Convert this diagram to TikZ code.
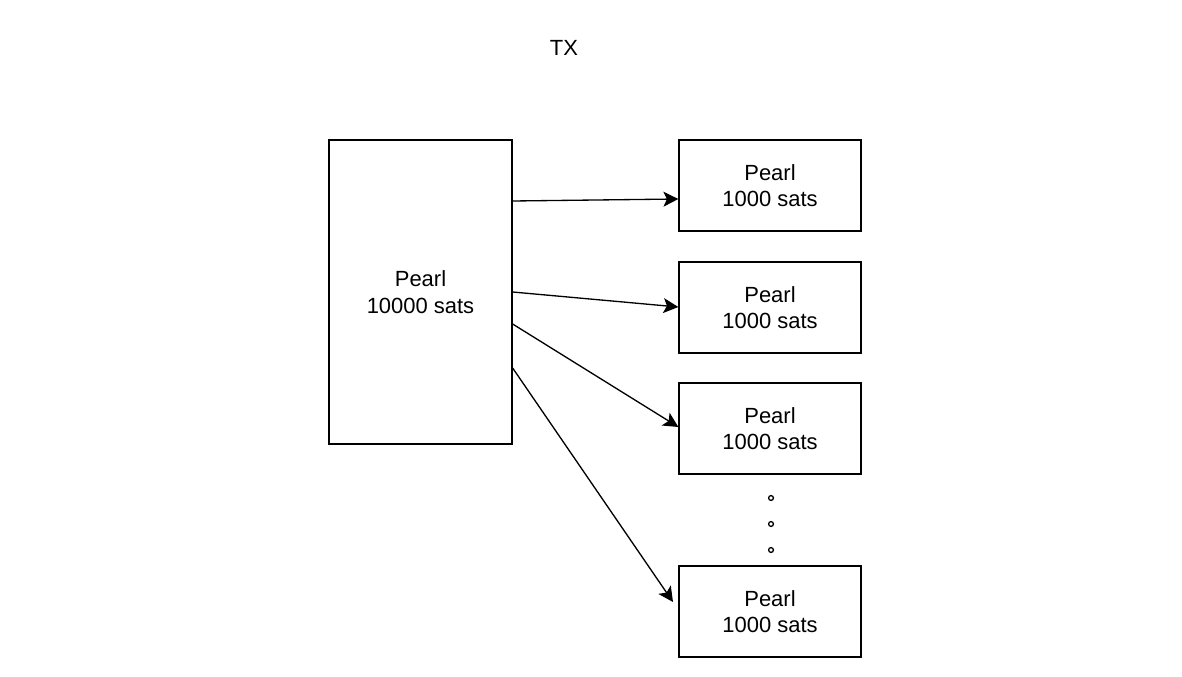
\documentclass[tikz,border=0pt]{standalone}
\usepackage{fontspec}
\setmainfont{Liberation Sans}
\usetikzlibrary{arrows.meta}
\tikzset{
	pearlbox/.style={draw, line width=0.75pt, align=center, inner sep=0pt, font=\fontsize{12.5}{15}\selectfont},
	flow/.style={line width=0.75pt, -{Stealth[length=8.5pt,width=8.5pt,inset=2pt]}}
}

\begin{document}
\begin{tikzpicture}[x=0.02cm, y=-0.02cm]
			%%%%% START %%%%%
			\useasboundingbox (0, 0) rectangle (1182, 676);
			
			\node[font=\fontsize{12.5}{15}\selectfont] (tx) at (564, 48) {TX};
			
			\node[pearlbox, minimum width=3.66cm, minimum height=6.08cm] (src) at (420.5, 292) {Pearl\\10000 sats};
			
			\node[pearlbox, minimum width=3.64cm, minimum height=1.82cm] (out1) at (770, 185.5) {Pearl\\1000 sats};
			\node[pearlbox, minimum width=3.64cm, minimum height=1.82cm] (out2) at (770, 307.5) {Pearl\\1000 sats};
			\node[pearlbox, minimum width=3.64cm, minimum height=1.82cm] (out3) at (770, 428.5) {Pearl\\1000 sats};
			\node[pearlbox, minimum width=3.64cm, minimum height=1.82cm] (out4) at (770, 611.5) {Pearl\\1000 sats};
			
			\foreach \y in {498, 524, 550}
				\draw[line width=0.75pt] (771, \y) circle (2.4);
			
			\coordinate (end4) at (673, 602);
			\draw[flow] (src.east |- 0, 201) -- (out1.west |- 0, 199);
			\draw[flow] (src.east |- 0, 292) -- (out2.west |- 0, 307);
			\draw[flow] (src.east |- 0, 324) -- (out3.west |- 0, 427);
			\draw[flow] (src.east |- 0, 368) -- (end4);
			%%%%% END %%%%%
		\end{tikzpicture}
\end{document}
